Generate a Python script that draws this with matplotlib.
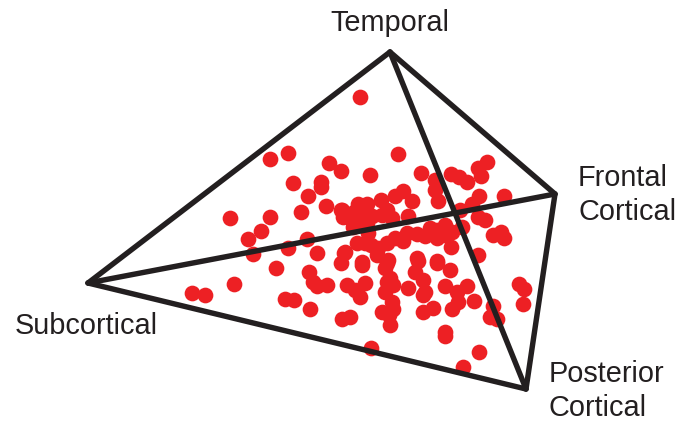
"""Tetrahedron plot of subjects across four atrophy factors."""
import matplotlib
matplotlib.use("Agg")
import matplotlib.pyplot as plt

plt.rcParams["font.family"] = ["Liberation Sans", "DejaVu Sans"]

# subject positions (x right, y down)
point_x = [360, 270, 288, 329, 341, 293, 321, 321, 308, 326, 341, 301, 230, 270,
           398, 370, 421, 487, 478, 481, 451, 459, 467, 435, 435, 438, 479, 504,
           472, 403, 395, 412, 381, 367, 358, 387, 382, 408, 392, 342, 460, 478,
           485, 462, 501, 493, 504, 478, 451, 445, 437, 430, 417, 403, 407, 445,
           387, 357, 378, 365, 417, 437, 362, 388, 345, 360, 353, 367, 368, 350,
           261, 248, 307, 253, 288, 317, 276, 341, 344, 309, 313, 317, 327, 347,
           234, 192, 205, 285, 294, 310, 342, 350, 343,
           362, 371, 377, 387, 385, 418, 415, 437, 450, 355, 365, 360, 390, 387,
           393, 385, 408, 423, 425, 423, 445, 467, 457, 458, 452, 474, 392, 393,
           382, 390, 389, 423, 433, 445, 445, 371, 479, 463, 493, 490, 497, 519,
           524, 523,
           354, 362, 358, 372, 425, 395, 437, 452]
point_y = [97, 159, 153, 163, 171, 183, 182, 187, 196, 206, 210, 212, 218, 217,
           154, 175, 173, 162, 168, 176, 174, 177, 182, 180, 190, 201, 196, 196,
           204, 191, 196, 201, 200, 204, 204, 210, 215, 216, 218, 210, 210, 217,
           220, 227, 232, 235, 238, 255, 247, 225, 238, 228, 234, 241, 233, 235,
           243, 243, 248, 243, 258, 261, 262, 260, 252, 220, 227, 223, 233, 218,
           231, 239, 239, 254, 248, 253, 268, 263, 253, 272, 282, 286, 285, 285,
           284, 293, 295, 299, 300, 309, 319, 317, 217,
           265, 245, 255, 263, 268, 261, 272, 263, 270, 290, 283, 297, 278, 282,
           285, 292, 288, 280, 292, 295, 286, 286, 292, 302, 309, 301, 302, 309,
           312, 325, 315, 312, 308, 332, 336, 348, 352, 367, 306, 317, 319, 284,
           289, 304,
           212, 214, 224, 216, 236, 238, 230, 232]

# corners of the tetrahedron
corner_x = [390, 88, 555, 526]
corner_y = [52, 283, 194, 389]
edges = [(0, 1), (0, 2), (0, 3), (1, 2), (1, 3), (2, 3)]

fig = plt.figure(figsize=(6.89, 4.22), dpi=100)
ax = fig.add_axes([0, 0, 1, 1])
ax.set_xlim(0, 689)
ax.set_ylim(422, 0)
ax.axis("off")

ax.scatter(point_x, point_y, s=128, color="#ed2024", linewidths=0, zorder=2)

for a, b in edges:
    ax.plot([corner_x[a], corner_x[b]], [corner_y[a], corner_y[b]],
            color="#231f20", lw=3.9, solid_capstyle="round", zorder=3)

label_style = dict(fontsize=20.8, color="#231f20", va="center", zorder=4)
ax.text(330, 23, "Temporal", ha="left", **label_style)
ax.text(15, 326, "Subcortical", ha="left", **label_style)
ax.text(578, 178, "Frontal", ha="left", **label_style)
ax.text(578, 212, "Cortical", ha="left", **label_style)
ax.text(549, 374, "Posterior", ha="left", **label_style)
ax.text(549, 408, "Cortical", ha="left", **label_style)

fig.savefig("out.png", dpi=100)
